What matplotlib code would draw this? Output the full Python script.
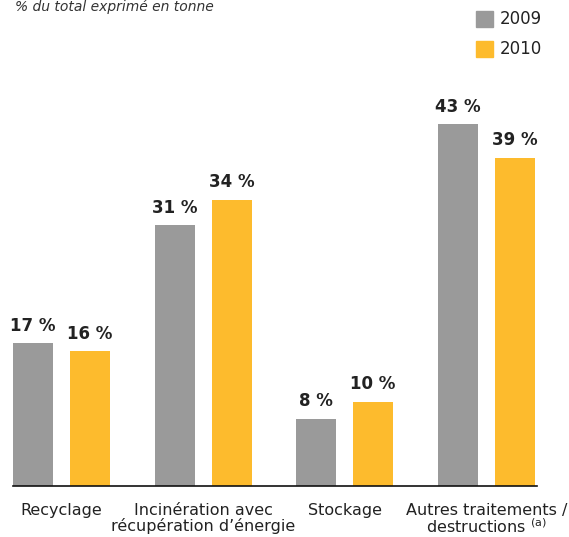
import matplotlib
matplotlib.use("Agg")
import matplotlib.pyplot as plt
import numpy as np
from matplotlib.patches import Rectangle

categories = ["Recyclage", "Incinération avec\nrécupération d’énergie", "Stockage",
              "Autres traitements /\ndestructions $^{\\mathregular{(a)}}$"]
series_names = ["2009", "2010"]
values_2009 = [17, 31, 8, 43]
values_2010 = [16, 34, 10, 39]
colors = ["#9A9A9A", "#FDBB2D"]
text_color = "#222222"

W, H = 569, 537
fig = plt.figure(figsize=(W / 100, H / 100), dpi=100)
ax = fig.add_axes([13 / W, (H - 486) / H, (537 - 13) / W, (486 - 65) / H])

x = np.arange(len(categories))
off = 0.201
width = 0.2825
for vals, dx, c in [(values_2009, -off, colors[0]), (values_2010, off, colors[1])]:
    bars = ax.bar(x + dx, vals, width=width, color=c)
    for b, v in zip(bars, vals):
        ax.annotate(f"{v} %", (b.get_x() + b.get_width() / 2, v), xytext=(0, 6),
                    textcoords="offset points", ha="center", va="bottom",
                    fontsize=12, fontweight="bold", color=text_color)

ax.set_xlim(-0.3425, 3.358)
ax.set_ylim(0, 50)
for s in ["top", "right", "left"]:
    ax.spines[s].set_visible(False)
ax.spines["bottom"].set_linewidth(1.2)
ax.spines["bottom"].set_color("#111111")
ax.set_yticks([])
ax.set_xticks(x)
ax.set_xticklabels(categories, fontsize=11.5, color=text_color, linespacing=1.0)
ax.tick_params(axis="x", length=0, pad=12)

fig.text(15 / W, 1 - 11 / H, "% du total exprimé en tonne", fontsize=10, style="italic",
         color="#333333", ha="left", va="baseline")

for i, (name, c) in enumerate(zip(series_names, colors)):
    yc = 19 + 30 * i
    fig.patches.append(Rectangle((476 / W, 1 - (yc + 8) / H), 17 / W, 16 / H,
                                 transform=fig.transFigure, color=c))
    fig.text(500 / W, 1 - yc / H, name, fontsize=12, color=text_color,
             ha="left", va="center")

fig.savefig("out.png", dpi=100)
